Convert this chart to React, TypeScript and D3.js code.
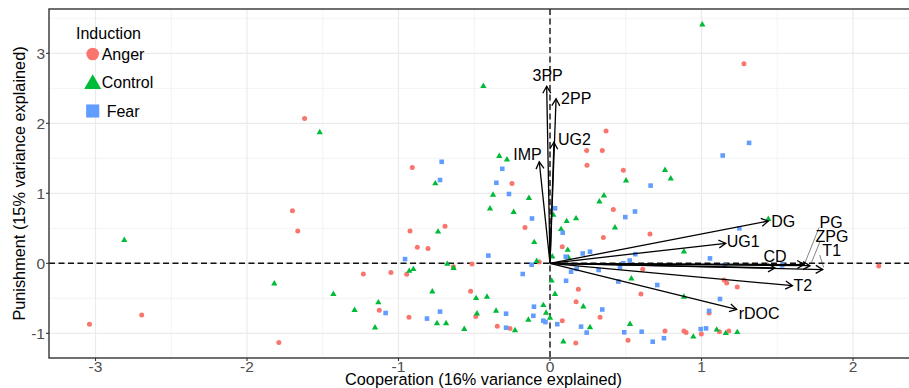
import React from 'react';
import * as d3 from 'd3';

// ---------- data ----------
const groups = ['Anger', 'Control', 'Fear'];

const angerX = [-3.04, -2.695, -1.79, -1.70, -1.665, -1.62, -0.909, -0.251, -0.165, -0.924, -0.693, 0.37, 0.242, 0.345, 0.244, 0.484, 0.418, 0.352, 0.66, 1.28, 0.612, 1.149, 1.166, 1.236, 0.60, 1.05, 0.33, 0.515, 0.759, 0.884, 0.898, 0.999, 1.118, 1.18, 2.17, 0.081, 0.187, 0.172, 0.081, 0.17, -0.876, -0.805, -1.05, -0.946, -0.638, -0.515, -0.071, -0.524, -0.931, -0.49, -0.348, -0.264, -1.232, -1.127];
const angerY = [-0.87, -0.74, -1.13, 0.75, 0.46, 2.07, 1.37, 1.14, 0.51, 0.46, 0.53, 1.89, 1.61, 1.61, 1.40, 1.33, 0.77, 0.37, 0.42, 2.85, -0.086, -0.24, -0.28, -0.34, -0.44, -0.71, -0.77, -1.10, -0.967, -0.967, -0.99, -1.01, -0.977, -0.967, -0.04, 0.237, -0.37, -0.55, -0.82, -1.14, 0.23, 0.21, -0.13, -0.157, -0.05, -0.01, 0.02, -0.40, -0.77, -0.76, -0.90, -0.93, -0.153, -0.67];

const controlX = [-2.81, -1.82, -1.52, -0.44, -0.757, -0.335, -0.284, -0.376, -0.139, -0.396, -0.24, -0.739, 0.022, 0.759, 0.797, 0.502, 0.356, 0.326, 0.11, 0.172, 0.073, 0.429, 1.005, 1.441, 0.884, 0.537, 0.884, 0.22, 0.528, 0.264, 0.946, 1.10, 1.16, 1.236, 0.117, 0.121, 0.015, 0.011, 0.033, 0.088, -0.104, -0.929, -0.902, -0.678, -0.636, -0.088, -0.777, -0.488, -0.416, -0.746, -0.686, -0.566, -0.482, -0.356, -0.231, -0.143, -0.044, -0.026, 0.0, -1.43, -1.133, -1.29, -1.155];
const controlY = [0.33, -0.29, 1.87, 2.53, 1.14, 1.53, 1.48, 0.976, 0.93, 0.78, 0.73, 0.45, 0.69, 1.33, 1.21, 1.18, 0.966, 0.88, 0.60, 0.64, 0.486, 0.51, 3.41, 0.63, 0.166, -0.22, -0.48, -0.62, -0.87, -0.915, -1.05, -0.95, -1.0, -0.986, 0.19, 0.08, 0.094, -0.25, -0.44, -1.12, 0.30, -0.11, -0.086, -0.01, -0.07, 0.03, -0.405, -0.50, -0.48, -0.86, -0.86, -0.94, -0.72, -0.68, -0.96, -0.81, -0.60, -0.71, -0.78, -0.44, -0.56, -0.67, -0.92];

const fearX = [-0.715, -0.726, -0.315, -0.354, -0.271, -0.119, 0.033, 0.664, 0.561, 0.497, 0.084, 1.314, 1.14, 1.25, 1.056, 0.563, 0.526, 0.484, 0.462, 0.321, 0.264, 0.216, 1.533, 1.155, 0.451, 0.708, 1.122, 1.05, 0.345, 0.205, 0.242, 0.49, 0.605, 0.678, 0.752, 0.995, 1.03, 0.104, 0.176, 0.139, 0.106, 0.048, -0.957, -0.407, -0.18, -0.121, -1.085, -0.812, -0.726, -0.29, -0.29, -0.11, -0.106, -0.044, -0.03];
const fearY = [1.45, 1.19, 1.35, 1.15, 0.99, 0.64, 0.785, 1.11, 0.74, 0.66, 0.437, 1.72, 1.54, 0.50, 0.07, 0.13, 0.04, 0.0, -0.057, -0.096, 0.166, 0.14, -0.03, -0.03, -0.26, -0.31, -0.51, -0.68, -0.66, -0.905, -0.99, -0.986, -0.977, -1.12, -1.07, -0.94, -0.93, 0.094, -0.08, -0.12, -0.25, -0.87, 0.06, 0.11, -0.153, -0.02, -0.71, -0.79, -0.69, -0.72, -0.92, -0.75, -0.62, -0.82, -0.84];

const arrowNames = ['3PP', '2PP', 'UG2', 'IMP', 'DG', 'UG1', 'CD', 'PG', 'ZPG', 'T1', 'T2', 'rDOC'];
const arrowX = [-0.022, 0.04, 0.026, -0.071, 1.441, 1.16, 1.485, 1.677, 1.716, 1.80, 1.60, 1.232];
const arrowY = [2.53, 2.35, 1.73, 1.45, 0.604, 0.286, -0.067, -0.017, -0.034, -0.089, -0.32, -0.66];

const xTicks = [-3, -2, -1, 0, 1, 2];
const yTicks = [-1, 0, 1, 2, 3];
const xMinor = [-2.5, -1.5, -0.5, 0.5, 1.5];
const yMinor = [-0.5, 0.5, 1.5, 2.5, 3.5];

const xTitle = 'Cooperation (16% variance explained)';
const yTitle = 'Punishment (15% variance explained)';
const legendTitle = 'Induction';

// ---------- styling ----------
const W = 909, H = 388;
const P = { left: 49, right: 918, top: 9, bottom: 358 };
const colors: Record<string, string> = { Anger: '#F8766D', Control: '#00BA38', Fear: '#619CFF' };
const FONT = '"Liberation Sans", Arial, Helvetica, sans-serif';

// label placement (pixel offsets from arrow tip)
const labelLayout: Record<string, { dx: number; dy: number; anchor: string; seg?: boolean }> = {
  '3PP': { dx: 1, dy: -11, anchor: 'middle' },
  '2PP': { dx: 5, dy: -1, anchor: 'start' },
  UG2: { dx: 4, dy: -3, anchor: 'start' },
  IMP: { dx: 2.4, dy: -7.4, anchor: 'end' },
  DG: { dx: 3, dy: 0, anchor: 'start' },
  UG1: { dx: 1, dy: -2, anchor: 'start' },
  CD: { dx: 0, dy: -12, anchor: 'middle' },
  PG: { dx: 27, dy: -42, anchor: 'middle', seg: true },
  ZPG: { dx: 22, dy: -29, anchor: 'middle', seg: true },
  T1: { dx: 9, dy: -19.5, anchor: 'middle', seg: true },
  T2: { dx: 1, dy: -0.7, anchor: 'start' },
  rDOC: { dx: 2, dy: 4, anchor: 'start' },
};

export default function App() {
  const x = d3.scaleLinear().domain([-3.307, 2.429]).range([P.left, P.right]);
  const y = d3.scaleLinear().domain([-1.353, 3.633]).range([P.bottom, P.top]);

  const symTri = d3.symbol().type(d3.symbolTriangle);
  const symSq = d3.symbol().type(d3.symbolSquare);

  const seriesData = [
    { g: 'Anger', xs: angerX, ys: angerY },
    { g: 'Control', xs: controlX, ys: controlY },
    { g: 'Fear', xs: fearX, ys: fearY },
  ];

  const marker = (g: string, cx: number, cy: number, big: boolean, key: string) => {
    if (g === 'Anger') return <circle key={key} cx={cx} cy={cy} r={big ? 6.3 : 2.5} fill={colors[g]} />;
    if (g === 'Control')
      return <path key={key} transform={`translate(${cx},${cy})`} d={symTri.size(big ? 125 : 17)() as string} fill={colors[g]} />;
    return <path key={key} transform={`translate(${cx},${cy})`} d={symSq.size(big ? 172 : 21)() as string} fill={colors[g]} />;
  };

  const x0 = x(0), y0 = y(0);

  return (
    <svg width={W} height={H} style={{ position: 'absolute', left: 0, top: 0, background: '#fff' }} fontFamily={FONT}>
      <defs>
        <clipPath id="panel">
          <rect x={P.left} y={P.top} width={P.right - P.left} height={P.bottom - P.top} />
        </clipPath>
      </defs>
      <rect x={0} y={0} width={W} height={H} fill="#fff" />
      {/* grid */}
      <g clipPath="url(#panel)">
        {xMinor.map((v) => (
          <line key={'xm' + v} x1={x(v)} x2={x(v)} y1={P.top} y2={P.bottom} stroke="#EBEBEB" strokeWidth={0.6} />
        ))}
        {yMinor.map((v) => (
          <line key={'ym' + v} y1={y(v)} y2={y(v)} x1={P.left} x2={P.right} stroke="#EBEBEB" strokeWidth={0.6} />
        ))}
        {xTicks.map((v) => (
          <line key={'xg' + v} x1={x(v)} x2={x(v)} y1={P.top} y2={P.bottom} stroke="#EBEBEB" strokeWidth={1.2} />
        ))}
        {yTicks.map((v) => (
          <line key={'yg' + v} y1={y(v)} y2={y(v)} x1={P.left} x2={P.right} stroke="#EBEBEB" strokeWidth={1.2} />
        ))}
        {/* dashed reference lines */}
        <line x1={P.left} x2={P.right} y1={y0} y2={y0} stroke="#111" strokeWidth={1.4} strokeDasharray="6 3.5" />
        <line x1={x0} x2={x0} y1={P.top} y2={P.bottom} stroke="#111" strokeWidth={1.4} strokeDasharray="6 3.5" />
        {/* points */}
        {seriesData.map((s) => s.xs.map((vx, i) => marker(s.g, x(vx), y(s.ys[i]), false, s.g + i)))}
        {/* arrows */}
        {arrowNames.map((n, i) => {
          const tx = x(arrowX[i]), ty = y(arrowY[i]);
          const ang = Math.atan2(ty - y0, tx - x0);
          const L = 8, a = Math.PI / 6;
          const p1 = [tx - L * Math.cos(ang - a), ty - L * Math.sin(ang - a)];
          const p2 = [tx - L * Math.cos(ang + a), ty - L * Math.sin(ang + a)];
          return (
            <g key={'ar' + n} stroke="#000" strokeWidth={1.3} fill="none">
              <line x1={x0} y1={y0} x2={tx} y2={ty} />
              <path d={`M${p1[0]},${p1[1]}L${tx},${ty}L${p2[0]},${p2[1]}`} strokeLinejoin="miter" />
            </g>
          );
        })}
        {/* labels */}
        {arrowNames.map((n, i) => {
          const tx = x(arrowX[i]), ty = y(arrowY[i]);
          const l = labelLayout[n];
          const lx = tx + l.dx, ly = ty + l.dy;
          return (
            <g key={'lb' + n}>
              {l.seg && (
                <line x1={lx - 12} y1={ly + 5} x2={tx + 1} y2={ty - 2} stroke="#333" strokeWidth={0.6} />
              )}
              <text x={lx} y={ly} dy="0.36em" textAnchor={l.anchor} fontSize={16} fill="#000">
                {n}
              </text>
            </g>
          );
        })}
      </g>
      {/* legend */}
      <g>
        <text x={76} y={39} fontSize={16} fill="#000">{legendTitle}</text>
        {groups.map((g, i) => {
          const cy = 54 + i * 28.5;
          return (
            <g key={'lg' + g}>
              {marker(g, 92.7, cy + (g === 'Control' ? 1.5 : 0), true, 'lm' + g)}
              <text x={g === 'Fear' ? 106.7 : 101.7} y={cy} dy="0.36em" fontSize={16} fill="#000">{g}</text>
            </g>
          );
        })}
      </g>
      {/* panel border */}
      <rect x={P.left} y={P.top} width={P.right - P.left} height={P.bottom - P.top} fill="none" stroke="#333" strokeWidth={1.4} />
      {/* axes ticks */}
      {xTicks.map((v) => (
        <g key={'xt' + v}>
          <line x1={x(v)} x2={x(v)} y1={P.bottom} y2={P.bottom + 3} stroke="#333" strokeWidth={1.1} />
          <text x={x(v)} y={P.bottom + 14} textAnchor="middle" fontSize={15.5} fill="#4D4D4D">{v < 0 ? '-' + Math.abs(v) : v}</text>
        </g>
      ))}
      {yTicks.map((v) => (
        <g key={'yt' + v}>
          <line x1={P.left - 3} x2={P.left} y1={y(v)} y2={y(v)} stroke="#333" strokeWidth={1.1} />
          <text x={P.left - 4} y={y(v)} dy="0.36em" textAnchor="end" fontSize={15.5} fill="#4D4D4D">{v < 0 ? '-' + Math.abs(v) : v}</text>
        </g>
      ))}
      <text x={(P.left + P.right) / 2} y={385} textAnchor="middle" fontSize={16.3} fill="#000">{xTitle}</text>
      <text transform={`translate(25,${(P.top + P.bottom) / 2}) rotate(-90)`} textAnchor="middle" fontSize={16.3} fill="#000">{yTitle}</text>
    </svg>
  );
}
